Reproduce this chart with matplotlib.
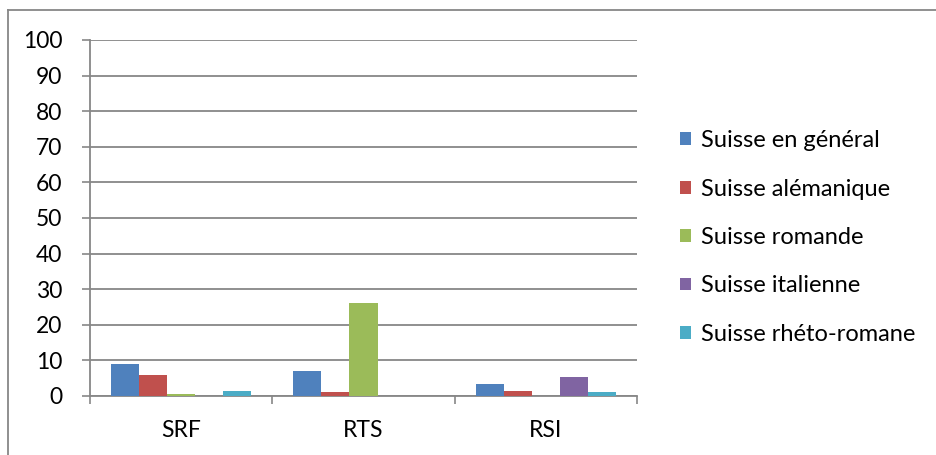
import matplotlib
matplotlib.use("Agg")
import matplotlib.pyplot as plt
from matplotlib.patches import Patch
from matplotlib.lines import Line2D
import numpy as np

plt.rcParams['font.family'] = ['Lato', 'DejaVu Sans']

categories = ["SRF", "RTS", "RSI"]
series_names = ["Suisse en général", "Suisse alémanique", "Suisse romande",
                "Suisse italienne", "Suisse rhéto-romane"]
en_general = [9.0, 7.0, 3.3]
alemanique = [6.0, 1.2, 1.3]
romande = [0.6, 26.1, 0.0]
italienne = [0.0, 0.0, 5.3]
rheto_romane = [1.5, 0.0, 1.2]
series_values = [en_general, alemanique, romande, italienne, rheto_romane]
colors = ["#4F81BD", "#C0504D", "#9BBB59", "#8064A2", "#4BACC6"]
y_ticks = list(range(0, 101, 10))

grid_col = "#878787"
fs = 16.5

fig = plt.figure(figsize=(9.37, 4.55), dpi=100)
ax = fig.add_axes([0.0961, 0.1297, 0.5837, 0.7824])

x = np.arange(len(categories))
w = 0.154
for i, (vals, col) in enumerate(zip(series_values, colors)):
    ax.bar(x + (i - 2) * w, vals, width=w, color=col, edgecolor='none', zorder=3)

ax.set_xlim(-0.5, len(categories) - 0.5)
ax.set_ylim(0, 100)
ax.set_yticks(y_ticks)
ax.set_yticklabels([str(t) for t in y_ticks], fontsize=fs, color='black')
ax.yaxis.grid(True, color=grid_col, linewidth=1.3, zorder=0)
ax.set_axisbelow(True)

# x ticks at category boundaries, labels centred on categories
ax.set_xticks(np.arange(-0.5, len(categories), 1.0))
ax.set_xticklabels([])
ax.set_xticks(x, minor=True)
ax.set_xticklabels(categories, minor=True, fontsize=fs)
ax.tick_params(axis='x', which='minor', length=0, pad=17)
ax.tick_params(axis='x', which='major', direction='out', length=6, color=grid_col, width=1.2)
ax.tick_params(axis='y', direction='out', length=6, color=grid_col, width=1.2, pad=14)

for s in ['top', 'right']:
    ax.spines[s].set_visible(False)
for s in ['left', 'bottom']:
    ax.spines[s].set_color(grid_col)
    ax.spines[s].set_linewidth(1.3)

handles = [Patch(facecolor=c, edgecolor='none') for c in colors]
fig.legend(handles, series_names, loc='center left', bbox_to_anchor=(0.7257, 0.4780),
           frameon=False, fontsize=17, handlelength=0.47, handleheight=0.47,
           handletextpad=0.4, labelspacing=1.16, borderaxespad=0, borderpad=0)

# chart area border (top and left)
fig.add_artist(Line2D([8 / 937, 1.0], [1 - 10 / 455, 1 - 10 / 455],
                      transform=fig.transFigure, color=grid_col, linewidth=1.3))
fig.add_artist(Line2D([8 / 937, 8 / 937], [0.0, 1 - 10 / 455],
                      transform=fig.transFigure, color=grid_col, linewidth=1.3))

fig.savefig("out.png", dpi=100)
